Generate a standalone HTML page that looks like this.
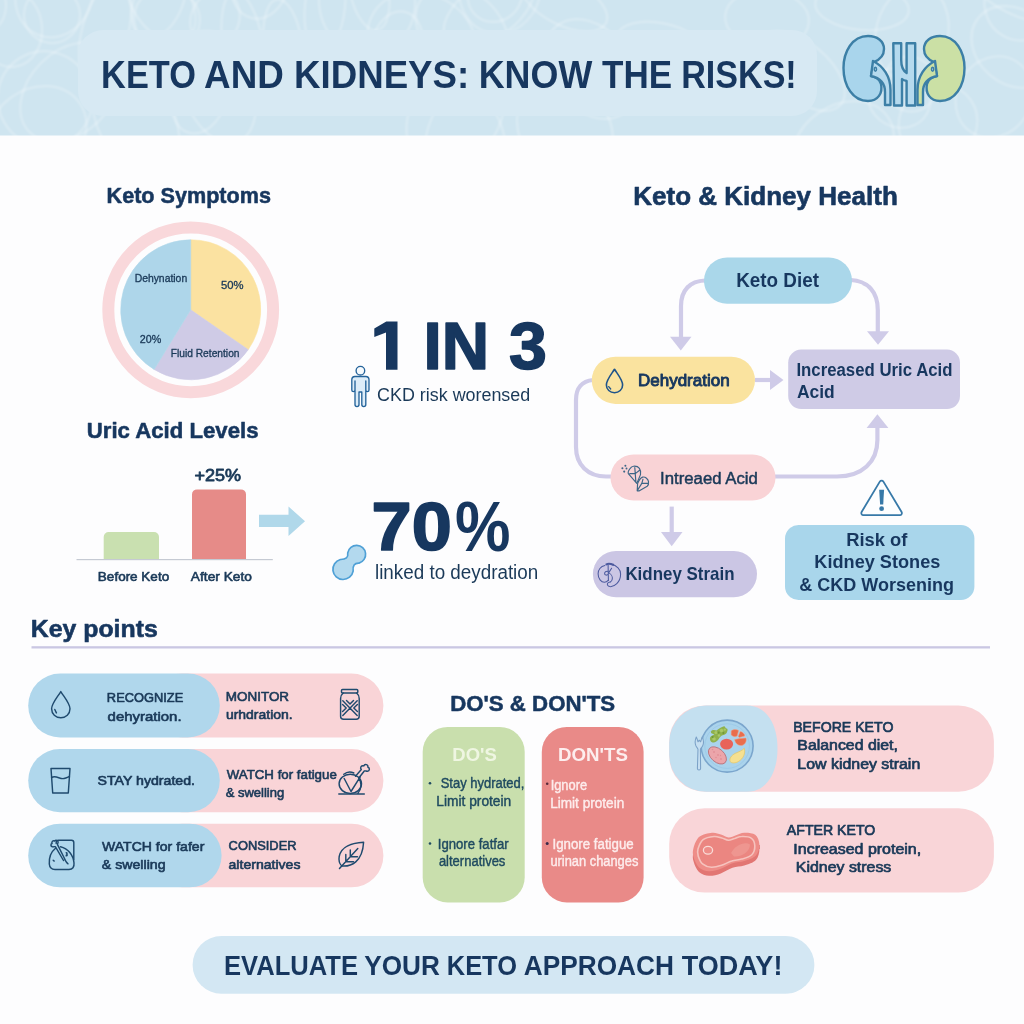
<!DOCTYPE html>
<html><head><meta charset="utf-8"><title>Keto and Kidneys</title>
<style>
html,body{margin:0;padding:0;background:#fdfdfe;}
body{width:1024px;height:1024px;overflow:hidden;font-family:"Liberation Sans",sans-serif;}
svg{display:block;font-family:"Liberation Sans",sans-serif;}
</style></head><body>
<svg width="1024" height="1024" viewBox="0 0 1024 1024">
<defs><filter id="soft" x="-5%" y="-5%" width="110%" height="110%"><feGaussianBlur stdDeviation="0.8"/></filter><clipPath id="hclip"><rect x="0" y="0" width="1024" height="135.5"/></clipPath></defs>
<rect x="0" y="0" width="1024" height="1024" fill="#fdfdfe"/>
<rect x="0" y="0" width="1024" height="135.5" fill="#cfe5f0"/>
<g fill="none" stroke="#ffffff" stroke-opacity="0.26" stroke-width="2.2" filter="url(#soft)" clip-path="url(#hclip)">
<ellipse cx="325" cy="6" rx="47" ry="20" transform="rotate(96 325 6)"/>
<ellipse cx="369" cy="-10" rx="41" ry="19" transform="rotate(78 369 -10)"/>
<ellipse cx="54" cy="-5" rx="38" ry="43" transform="rotate(22 54 -5)"/>
<ellipse cx="218" cy="87" rx="58" ry="35" transform="rotate(71 218 87)"/>
<ellipse cx="1019" cy="-12" rx="55" ry="27" transform="rotate(26 1019 -12)"/>
<ellipse cx="105" cy="32" rx="53" ry="23" transform="rotate(105 105 32)"/>
<ellipse cx="660" cy="43" rx="43" ry="20" transform="rotate(11 660 43)"/>
<ellipse cx="199" cy="96" rx="38" ry="27" transform="rotate(105 199 96)"/>
<ellipse cx="462" cy="31" rx="52" ry="39" transform="rotate(44 462 31)"/>
<ellipse cx="591" cy="69" rx="55" ry="40" transform="rotate(52 591 69)"/>
<ellipse cx="1023" cy="0" rx="38" ry="41" transform="rotate(27 1023 0)"/>
<ellipse cx="500" cy="-13" rx="47" ry="41" transform="rotate(103 500 -13)"/>
<ellipse cx="912" cy="33" rx="48" ry="36" transform="rotate(104 912 33)"/>
<ellipse cx="465" cy="123" rx="58" ry="32" transform="rotate(120 465 123)"/>
<ellipse cx="45" cy="99" rx="47" ry="48" transform="rotate(148 45 99)"/>
<ellipse cx="283" cy="46" rx="47" ry="19" transform="rotate(83 283 46)"/>
<ellipse cx="159" cy="-0" rx="24" ry="41" transform="rotate(23 159 -0)"/>
<ellipse cx="243" cy="46" rx="55" ry="20" transform="rotate(81 243 46)"/>
<ellipse cx="565" cy="130" rx="53" ry="44" transform="rotate(50 565 130)"/>
<ellipse cx="422" cy="41" rx="56" ry="47" transform="rotate(27 422 41)"/>
<ellipse cx="167" cy="19" rx="31" ry="33" transform="rotate(106 167 19)"/>
<ellipse cx="260" cy="-19" rx="38" ry="29" transform="rotate(102 260 -19)"/>
<ellipse cx="994" cy="97" rx="42" ry="37" transform="rotate(122 994 97)"/>
<ellipse cx="37" cy="133" rx="52" ry="44" transform="rotate(144 37 133)"/>
<ellipse cx="397" cy="48" rx="26" ry="37" transform="rotate(11 397 48)"/>
<ellipse cx="52" cy="15" rx="28" ry="28" transform="rotate(9 52 15)"/>
<ellipse cx="-20" cy="6" rx="26" ry="29" transform="rotate(5 -20 6)"/>
<ellipse cx="910" cy="84" rx="28" ry="26" transform="rotate(63 910 84)"/>
<ellipse cx="367" cy="1" rx="54" ry="48" transform="rotate(84 367 1)"/>
<ellipse cx="495" cy="-5" rx="26" ry="28" transform="rotate(48 495 -5)"/>
<ellipse cx="862" cy="7" rx="23" ry="47" transform="rotate(95 862 7)"/>
<ellipse cx="136" cy="72" rx="23" ry="34" transform="rotate(176 136 72)"/>
<ellipse cx="899" cy="98" rx="32" ry="29" transform="rotate(30 899 98)"/>
<ellipse cx="801" cy="71" rx="52" ry="28" transform="rotate(40 801 71)"/>
<ellipse cx="843" cy="147" rx="54" ry="42" transform="rotate(147 843 147)"/>
<ellipse cx="767" cy="19" rx="42" ry="29" transform="rotate(5 767 19)"/>
<ellipse cx="10" cy="28" rx="32" ry="39" transform="rotate(172 10 28)"/>
<ellipse cx="456" cy="139" rx="60" ry="47" transform="rotate(66 456 139)"/>
<ellipse cx="215" cy="19" rx="29" ry="24" transform="rotate(112 215 19)"/>
<ellipse cx="938" cy="123" rx="40" ry="38" transform="rotate(144 938 123)"/>
<ellipse cx="70" cy="92" rx="57" ry="41" transform="rotate(135 70 92)"/>
<ellipse cx="489" cy="10" rx="52" ry="28" transform="rotate(144 489 10)"/>
<ellipse cx="1014" cy="47" rx="37" ry="46" transform="rotate(130 1014 47)"/>
<ellipse cx="161" cy="2" rx="28" ry="45" transform="rotate(145 161 2)"/>
<ellipse cx="136" cy="121" rx="59" ry="38" transform="rotate(63 136 121)"/>
<ellipse cx="564" cy="2" rx="23" ry="47" transform="rotate(117 564 2)"/>
</g>
<rect x="78" y="30" width="739" height="86" rx="25" fill="#d7e9f3"/>
<text x="101.08" y="88.4" font-size="39" font-weight="bold" fill="#17375f" text-anchor="start" textLength="94.77" lengthAdjust="spacingAndGlyphs">KETO</text>
<text x="204.09" y="88.4" font-size="39" font-weight="bold" fill="#17375f" text-anchor="start" textLength="79.81" lengthAdjust="spacingAndGlyphs">AND</text>
<text x="294.03" y="88.4" font-size="39" font-weight="bold" fill="#17375f" text-anchor="start" textLength="175.18" lengthAdjust="spacingAndGlyphs">KIDNEYS:</text>
<text x="478.70" y="88.4" font-size="39" font-weight="bold" fill="#17375f" text-anchor="start" textLength="113.55" lengthAdjust="spacingAndGlyphs">KNOW</text>
<text x="602.03" y="88.4" font-size="39" font-weight="bold" fill="#17375f" text-anchor="start" textLength="70.07" lengthAdjust="spacingAndGlyphs">THE</text>
<text x="681.22" y="88.4" font-size="39" font-weight="bold" fill="#17375f" text-anchor="start" textLength="115.51" lengthAdjust="spacingAndGlyphs">RISKS!</text>
<g stroke="#3c7fa6" stroke-width="2.4" stroke-linejoin="round" stroke-linecap="round">
<path d="M868,36 C852,36 843.5,52 843.5,68 C843.5,86 853,101 868,101 C878,101 883,93 881,84 C879.5,78 875,77 871,76 L874,62 C879,60 884,57 884,49 C884,41 877,36 868,36 Z" fill="#a9d5ec"/>
<path d="M940,36 C956,36 964.5,52 964.5,68 C964.5,86 955,101 940,101 C930,101 925,93 927,84 C928.5,78 933,77 937,76 L934,62 C929,60 924,57 924,49 C924,41 931,36 940,36 Z" fill="#cbe0a5"/>
<path d="M873,61 C883,66 890.5,76 890.5,90 L890.5,105 L885,105 L885,92 C885,83 880,78 871,76 Z" fill="#b5daee"/>
<path d="M935,61 C925,66 917.5,76 917.5,90 L917.5,105 L923,105 L923,92 C923,83 928,78 937,76 Z" fill="#cbe0a5"/>
<ellipse cx="875.4" cy="69.3" rx="1.1" ry="1.9" fill="#e4f1f8" stroke-width="1.6"/>
<ellipse cx="932.6" cy="69.3" rx="1.1" ry="1.9" fill="#e4f1f8" stroke-width="1.6"/>
<path d="M893.3,43.2 L901.2,43.2 L901.2,60 C901.2,67 903.5,71 906.6,73 L906.6,43.2 L915.2,43.2 L915.2,105.5 L906.6,105.5 L906.6,81 C904.5,80.5 903,80 902,79 L902,105.5 L894,105.5 Z" fill="#b5daee"/>
</g>
<text x="106.55" y="202.88" font-size="21.66" font-weight="bold" fill="#17375f" text-anchor="start" textLength="164.36" lengthAdjust="spacingAndGlyphs" stroke="#17375f" stroke-width="0.54" stroke-linejoin="round">Keto Symptoms</text>
<circle cx="190.7" cy="309.8" r="82.4" fill="none" stroke="#f9d8db" stroke-width="12"/>
<path d="M190.7,309.8 L190.70,239.80 A70,70 0 0 1 248.25,349.65 Z" fill="#fbe2a1" stroke="#fbe2a1" stroke-width="0.6" stroke-linejoin="round"/>
<path d="M190.7,309.8 L248.25,349.65 A70,70 0 0 1 154.13,369.48 Z" fill="#cfcbe6" stroke="#cfcbe6" stroke-width="0.6" stroke-linejoin="round"/>
<path d="M190.7,309.8 L154.13,369.48 A70,70 0 0 1 190.70,239.80 Z" fill="#aed6ea" stroke="#aed6ea" stroke-width="0.6" stroke-linejoin="round"/>
<text x="134.64" y="282.33" font-size="11.09" font-weight="normal" fill="#1a3958" text-anchor="start" textLength="52.54" lengthAdjust="spacingAndGlyphs" stroke="#1a3958" stroke-width="0.33" stroke-linejoin="round">Dehynation</text>
<text x="220.96" y="288.92" font-size="11.48" font-weight="normal" fill="#1a3958" text-anchor="start" textLength="22.58" lengthAdjust="spacingAndGlyphs" stroke="#1a3958" stroke-width="0.34" stroke-linejoin="round">50%</text>
<text x="139.75" y="342.73" font-size="11.09" font-weight="normal" fill="#1a3958" text-anchor="start" textLength="21.50" lengthAdjust="spacingAndGlyphs" stroke="#1a3958" stroke-width="0.33" stroke-linejoin="round">20%</text>
<text x="170.74" y="356.73" font-size="11.09" font-weight="normal" fill="#1a3958" text-anchor="start" textLength="68.78" lengthAdjust="spacingAndGlyphs" stroke="#1a3958" stroke-width="0.33" stroke-linejoin="round">Fluid Retention</text>
<text x="86.81" y="437.87" font-size="22.64" font-weight="bold" fill="#17375f" text-anchor="start" textLength="171.69" lengthAdjust="spacingAndGlyphs" stroke="#17375f" stroke-width="0.57" stroke-linejoin="round">Uric Acid Levels</text>
<text x="194.42" y="481.12" font-size="16.31" font-weight="normal" fill="#1a3958" text-anchor="start" textLength="46.58" lengthAdjust="spacingAndGlyphs" stroke="#1a3958" stroke-width="0.78" stroke-linejoin="round">+25%</text>
<path d="M103.7,559.5 V537 a5,5 0 0 1 5,-5 H154 a5,5 0 0 1 5,5 V559.5 Z" fill="#c9e0b0"/>
<path d="M192,559.5 V494.4 a5,5 0 0 1 5,-5 H241 a5,5 0 0 1 5,5 V559.5 Z" fill="#e68b88"/>
<rect x="76.5" y="559" width="196.3" height="1.2" fill="#c5cad3"/>
<text x="97.88" y="581.46" font-size="13.1" font-weight="normal" fill="#1a3958" text-anchor="start" textLength="71.26" lengthAdjust="spacingAndGlyphs" stroke="#1a3958" stroke-width="0.63" stroke-linejoin="round">Before Keto</text>
<text x="190.89" y="581.46" font-size="13.1" font-weight="normal" fill="#1a3958" text-anchor="start" textLength="61.02" lengthAdjust="spacingAndGlyphs" stroke="#1a3958" stroke-width="0.63" stroke-linejoin="round">After Keto</text>
<path d="M259,514.8 H288.5 V506.6 L305,521.2 L288.5,535.9 V527 H259 Z" fill="#b0d8ea"/>
<path d="M386.3,321.5 H397.5 V369.75 H386 V332.6 L374.3,337 V328.6 Z" fill="#17375f"/>
<text x="423.62" y="369.23" font-size="66.46" font-weight="bold" fill="#17375f" text-anchor="start" textLength="65.58" lengthAdjust="spacingAndGlyphs" stroke="#17375f" stroke-width="1.66" stroke-linejoin="round">IN</text>
<text x="508.90" y="369.23" font-size="66.46" font-weight="bold" fill="#17375f" text-anchor="start" textLength="37.83" lengthAdjust="spacingAndGlyphs" stroke="#17375f" stroke-width="1.66" stroke-linejoin="round">3</text>
<text x="377.10" y="401" font-size="18" font-weight="normal" fill="#1a3958" text-anchor="start" textLength="153.10" lengthAdjust="spacingAndGlyphs">CKD risk worensed</text>
<g fill="#dcecf8" stroke="#24639a" stroke-width="1.35" stroke-linejoin="round">
<circle cx="360.4" cy="370.7" r="4.3" fill="#f6fafd"/>
<path d="M355,376.5 H365.8 a3.2,3.2 0 0 1 3.2,3.2 V390 a1.6,1.6 0 0 1 -3.2,0 V381 V404.6 a2,2 0 0 1 -4,0 V392 H359 V404.6 a2,2 0 0 1 -4,0 V381 V390 a1.6,1.6 0 0 1 -3.2,0 V379.7 a3.2,3.2 0 0 1 3.2,-3.2 Z"/>
</g>
<text x="371.60" y="550.41" font-size="68.92" font-weight="bold" fill="#17375f" text-anchor="start" textLength="80.28" lengthAdjust="spacingAndGlyphs" stroke="#17375f" stroke-width="1.72" stroke-linejoin="round">70</text>
<text x="455.02" y="550.8" font-size="70" font-weight="bold" fill="#17375f" text-anchor="start" textLength="55.51" lengthAdjust="spacingAndGlyphs">%</text>
<text x="374.99" y="578.5" font-size="19.5" font-weight="normal" fill="#1a3958" text-anchor="start" textLength="163.27" lengthAdjust="spacingAndGlyphs">linked to deydration</text>
<path d="M347.74,552.81 A9.0,9.0 0 1 1 359.05,563.06 Q352.12,562.71 353.14,571.10 A10.2,10.2 0 1 1 340.32,559.49 Q348.77,559.68 347.74,552.81 Z" fill="#b3d9ee" stroke="#4fa0d6" stroke-width="1.7" stroke-linejoin="round"/>
<text x="633.29" y="205.05" font-size="26.09" font-weight="bold" fill="#17375f" text-anchor="start" textLength="264.51" lengthAdjust="spacingAndGlyphs" stroke="#17375f" stroke-width="0.65" stroke-linejoin="round">Keto &amp; Kidney Health</text>
<g fill="none" stroke="#cfcbe8" stroke-width="4.2">
<path d="M705,280.5 C690,281 681,290 681,306 V338"/>
<path d="M851,280 C868,281 877.8,292 877.8,310 V333"/>
<path d="M755,380 H772"/>
<path d="M593,380 C582,381 576,388 576,400 V447 C576,465 588,476.5 606,476.5 H612"/>
<path d="M774,476.5 H837 C862,476.5 877.4,462 877.4,440 V426"/>
<path d="M671.7,506.6 V534"/>
</g>
<g fill="#cfcbe8">
<path d="M670,336.7 H691.5 L680.8,350.6 Z"/>
<path d="M867,331.3 H889 L878,344.8 Z"/>
<path d="M770,370 L783.5,380 L770,390 Z"/>
<path d="M866.6,428 H888.4 L877.4,414.3 Z"/>
<path d="M661,532 H682.5 L671.7,546.3 Z"/>
</g>
<rect x="704" y="257.6" width="148" height="46.2" rx="23.1" fill="#aad7ea"/>
<text x="736.18" y="286.6" font-size="19.5" font-weight="bold" fill="#17375f" text-anchor="start" textLength="82.78" lengthAdjust="spacingAndGlyphs">Keto Diet</text>
<rect x="591.8" y="356.7" width="163.2" height="47.2" rx="23.6" fill="#fae39f"/>
<text x="638.00" y="386.39" font-size="17.11" font-weight="normal" fill="#17375f" text-anchor="start" textLength="91.62" lengthAdjust="spacingAndGlyphs" stroke="#17375f" stroke-width="0.94" stroke-linejoin="round">Dehydration</text>
<path d="M614.5,369.3 C611.3,374.3 606.4,380 606.4,384.9 C606.4,389.4 610,392.7 614.5,392.7 C619,392.7 622.6,389.4 622.6,384.9 C622.6,380 617.7,374.3 614.5,369.3 Z" fill="none" stroke="#1f548a" stroke-width="1.6" stroke-linejoin="round"/>
<path d="M608.7,386.6 l2,2.4" fill="none" stroke="#1f548a" stroke-width="1.3" stroke-linecap="round"/>
<rect x="788.2" y="349.6" width="171.8" height="59.4" rx="13" fill="#cfcbe6"/>
<text x="796.42" y="375.8" font-size="18" font-weight="bold" fill="#17375f" text-anchor="start" textLength="156.10" lengthAdjust="spacingAndGlyphs">Increased Uric Acid</text>
<text x="796.93" y="398.3" font-size="18" font-weight="bold" fill="#17375f" text-anchor="start" textLength="37.89" lengthAdjust="spacingAndGlyphs">Acid</text>
<rect x="610.5" y="454.4" width="165" height="46.2" rx="23.1" fill="#f9d3d6"/>
<text x="660.14" y="483.69" font-size="16.69" font-weight="normal" fill="#1a3958" text-anchor="start" textLength="97.67" lengthAdjust="spacingAndGlyphs" stroke="#1a3958" stroke-width="0.50" stroke-linejoin="round">Intreaed Acid</text>
<g fill="none" stroke="#3d6687" stroke-width="1.15" stroke-linejoin="round" stroke-linecap="round">
<path d="M633.6,466.2 C636,466 638.4,467 639.4,468.3 C640.6,470 641,472.5 640.5,474.6 L636.8,483.4 L628.3,473.6 C627.8,472 629,469.5 631.4,467.2 C632,466.6 632.8,466.3 633.6,466.2 Z M634.8,467.6 L635.9,482.4 M629.8,473.6 H635.6 M635.6,473.4 L639.6,470.3"/>
<path d="M637.2,490.8 L637.6,483.6 C638.6,480.6 640.4,478 642.6,477.1 C645.4,476.6 648.2,479 648.5,481.6 C648.8,483.6 648.2,485.4 647.2,486.3 L639.4,490.8 Z M643,479.2 L641.8,483.4 L637.4,490.4 M641.8,483.4 H648.2"/>
</g>
<g fill="#3d6687"><circle cx="625.4" cy="465.8" r="1"/><circle cx="622.4" cy="468.2" r="1.05"/><circle cx="626.5" cy="468.5" r="0.95"/><circle cx="624.2" cy="471.6" r="1.05"/></g>
<rect x="592.9" y="551" width="164.1" height="46.2" rx="23.1" fill="#cbc6e4"/>
<text x="625.40" y="580" font-size="19" font-weight="bold" fill="#17375f" text-anchor="start" textLength="109.11" lengthAdjust="spacingAndGlyphs">Kidney Strain</text>
<g fill="none" stroke="#3f4f97" stroke-width="1.05" opacity="0.9" stroke-linecap="round" stroke-linejoin="round">
<path d="M604.9,565.6 C600.5,566.3 598.1,570 598.1,573.7 C598.1,578.8 601.2,582.3 604.4,582.3 C606.2,582.3 607.5,581.2 608.2,580.4"/>
<path d="M611,564.2 C617,565.3 620.6,569.5 620.6,574 C620.6,578.5 619,581.5 616.8,583.6 C614.5,585.8 611.8,586.9 609.8,586.6 C607.6,586.2 607,584.3 607.6,583.3 C608.1,582.5 609,582 610.2,582"/>
<path d="M606.4,564.4 C608,563.6 610.5,563.7 613.2,564.8" stroke-width="2"/>
<path d="M608.1,565 L608.4,580.5 M608.8,572.6 L611.6,568.3 M608.8,572.9 C611,574 612.7,576.8 612.3,579 C612,580.8 611,581.8 610.2,582 M608,571.4 C606,570.9 604.6,572 604.6,573.5 C604.6,575.4 607,575.6 608.1,574.2"/>
</g>
<path d="M883.4,481.6 L901.6,512 a2.1,2.1 0 0 1 -1.8,3.2 H863.4 a2.1,2.1 0 0 1 -1.8,-3.2 L879.8,481.6 a2.1,2.1 0 0 1 3.6,0 Z" fill="#fdfeff" stroke="#3779a8" stroke-width="1.8" stroke-linejoin="round"/>
<path d="M879.2,489.8 h4.9 l-0.9,14.8 h-3.1 Z" fill="#3779a8"/><circle cx="881.6" cy="508.7" r="2.4" fill="#3779a8"/>
<rect x="785" y="525" width="189.4" height="75" rx="13.5" fill="#a9d6eb"/>
<text x="846.15" y="545.6" font-size="18" font-weight="bold" fill="#17375f" text-anchor="start" textLength="61.26" lengthAdjust="spacingAndGlyphs">Risk of</text>
<text x="814.36" y="568" font-size="18" font-weight="bold" fill="#17375f" text-anchor="start" textLength="125.95" lengthAdjust="spacingAndGlyphs">Kidney Stones</text>
<text x="799.37" y="591" font-size="18" font-weight="bold" fill="#17375f" text-anchor="start" textLength="154.66" lengthAdjust="spacingAndGlyphs">&amp; CKD Worsening</text>
<text x="30.80" y="636.86" font-size="24.12" font-weight="bold" fill="#17375f" text-anchor="start" textLength="126.94" lengthAdjust="spacingAndGlyphs" stroke="#17375f" stroke-width="0.60" stroke-linejoin="round">Key points</text>
<rect x="31.5" y="646.2" width="958.5" height="2.3" fill="#cac7e3"/>
<rect x="150" y="673.5" width="233.4" height="64.0" rx="32.0" fill="#f9d4d7"/>
<rect x="28.2" y="673.5" width="191.6" height="64.0" rx="32.0" fill="#b0d7ec"/>
<rect x="150" y="749" width="233.4" height="63.2" rx="31.6" fill="#f9d4d7"/>
<rect x="28.2" y="749" width="191.6" height="63.2" rx="31.6" fill="#b0d7ec"/>
<rect x="150" y="823.7" width="233.4" height="63.6" rx="31.8" fill="#f9d4d7"/>
<rect x="28.2" y="823.7" width="193.4" height="63.6" rx="31.8" fill="#b0d7ec"/>
<text x="106.86" y="701.85" font-size="13.59" font-weight="normal" fill="#1a3958" text-anchor="start" textLength="76.41" lengthAdjust="spacingAndGlyphs" stroke="#1a3958" stroke-width="0.65" stroke-linejoin="round">RECOGNIZE</text>
<text x="107.64" y="720.55" font-size="13.59" font-weight="normal" fill="#1a3958" text-anchor="start" textLength="73.95" lengthAdjust="spacingAndGlyphs" stroke="#1a3958" stroke-width="0.65" stroke-linejoin="round">dehyration.</text>
<text x="225.79" y="701.35" font-size="13.59" font-weight="normal" fill="#1a3958" text-anchor="start" textLength="63.32" lengthAdjust="spacingAndGlyphs" stroke="#1a3958" stroke-width="0.65" stroke-linejoin="round">MONITOR</text>
<text x="225.96" y="719.15" font-size="13.59" font-weight="normal" fill="#1a3958" text-anchor="start" textLength="66.67" lengthAdjust="spacingAndGlyphs" stroke="#1a3958" stroke-width="0.65" stroke-linejoin="round">urhdration.</text>
<text x="97.49" y="785.35" font-size="13.59" font-weight="normal" fill="#1a3958" text-anchor="start" textLength="97.52" lengthAdjust="spacingAndGlyphs" stroke="#1a3958" stroke-width="0.65" stroke-linejoin="round">STAY hydrated.</text>
<text x="226.73" y="778.85" font-size="13.59" font-weight="normal" fill="#1a3958" text-anchor="start" textLength="110.07" lengthAdjust="spacingAndGlyphs" stroke="#1a3958" stroke-width="0.65" stroke-linejoin="round">WATCH for fatigue</text>
<text x="225.67" y="797.05" font-size="13.59" font-weight="normal" fill="#1a3958" text-anchor="start" textLength="58.54" lengthAdjust="spacingAndGlyphs" stroke="#1a3958" stroke-width="0.65" stroke-linejoin="round">&amp; swelling</text>
<text x="101.97" y="850.55" font-size="13.59" font-weight="normal" fill="#1a3958" text-anchor="start" textLength="102.35" lengthAdjust="spacingAndGlyphs" stroke="#1a3958" stroke-width="0.65" stroke-linejoin="round">WATCH for fafer</text>
<text x="101.78" y="869.45" font-size="13.59" font-weight="normal" fill="#1a3958" text-anchor="start" textLength="63.84" lengthAdjust="spacingAndGlyphs" stroke="#1a3958" stroke-width="0.65" stroke-linejoin="round">&amp; swelling</text>
<text x="228.60" y="850.45" font-size="13.59" font-weight="normal" fill="#1a3958" text-anchor="start" textLength="67.93" lengthAdjust="spacingAndGlyphs" stroke="#1a3958" stroke-width="0.65" stroke-linejoin="round">CONSIDER</text>
<text x="228.53" y="868.85" font-size="13.59" font-weight="normal" fill="#1a3958" text-anchor="start" textLength="71.96" lengthAdjust="spacingAndGlyphs" stroke="#1a3958" stroke-width="0.65" stroke-linejoin="round">alternatives</text>
<g fill="none" stroke="#1f4a6e" stroke-width="1.45" stroke-linejoin="round" stroke-linecap="round">
<path d="M60.8,691.6 C57.2,697.4 51.6,703.6 51.6,708.8 C51.6,713.9 55.7,717.7 60.8,717.7 C65.9,717.7 70,713.9 70,708.8 C70,703.6 64.4,697.4 60.8,691.6 Z"/>
<path d="M54.8,709.5 l1.6,3.4"/>
<path d="M51,768.5 H70 L68.3,793 H52.7 Z"/>
<path d="M51.6,777.5 C56,775 60,779.5 64,778.5 C66.5,778 68,777 69.4,776.5"/>
<path d="M56.2,843.5 V842.6 a2.3,2.3 0 0 1 2.3,-2.3 H71.5 a2.3,2.3 0 0 1 2.3,2.3 V859.5"/>
<path d="M55.5,848.3 C51,852 48.9,858 49.3,864 C49.6,867.6 52,869.4 55,869.4 H69 C72.6,869.4 74.4,867 74,863 C73.3,855 68,848.6 60.5,846.8"/>
<path d="M55.5,846.8 c-1.2,-0.6 -1.8,0.4 -3.2,0 c-1.8,-0.5 -1.8,-2.8 -0.2,-3.3 c-0.9,-1.7 1,-3.4 2.6,-2.4 c1,-1.4 3.4,-0.8 3.4,1 c0,1 -0.7,1.6 -0.6,2.6 L64,857.5 C65,860 66,862.5 68,863.8 M55.5,846.8 L63.5,860.5"/>
<path d="M66.2,852.6 c1,0 1.2,1.2 0.2,1.5 c1.2,0.2 1,1.8 -0.3,1.7 M53.2,860.3 l1,0.8"/>
<rect x="341.5" y="689.4" width="16.3" height="3.6" rx="1"/>
<path d="M343.2,693 C341.2,694.6 340.6,696.5 340.6,698.5 V716.2 a3,3 0 0 0 3,3 H356.2 a3,3 0 0 0 3,-3 V698.5 C359.2,696.5 358.6,694.6 356.6,693"/>
<path d="M342.8,700.8 L357.2,715.4 M357.2,700.8 L342.8,715.4 M342.6,704.6 L346.2,708.1 L342.6,711.6 M357.4,704.6 L353.8,708.1 L357.4,711.6 M346.5,700.6 L350,704 L353.5,700.6"/>
<ellipse cx="350.3" cy="783.8" rx="11.2" ry="9.6"/>
<path d="M355.5,776.2 L361.3,769.6 c-1.7,-1.9 0.2,-4.6 2.5,-3.7 c0.9,-2.4 4.6,-1.3 4.1,1.3 c2.2,0.5 1.9,3.9 -0.5,4 c-1.3,0.1 -2,-0.6 -3.1,-0.2 L358.8,778"/>
<path d="M343.8,774.3 c2.8,-2.4 7,-2.8 10,-1.3 M344.2,778.5 L351,791.5 L360.2,776.8 M338.8,794 H364.3 M358.8,778 C362.5,783 361,790 358,793"/>
<path d="M363.6,842.2 C352,842.8 341,846.8 339.2,856.5 C338.5,860.5 339.6,864 341.8,866 C351,866.8 362.5,862 363.6,842.2 Z"/>
<path d="M339.5,868.6 L357.8,848.5 M345.8,861.7 V854.5 M345.8,861.7 H353.5 M350.3,856.8 V850 M350.3,856.8 H357.5"/>
</g>
<text x="450.24" y="710.87" font-size="22.64" font-weight="bold" fill="#17375f" text-anchor="start" textLength="164.92" lengthAdjust="spacingAndGlyphs" stroke="#17375f" stroke-width="0.57" stroke-linejoin="round">DO'S &amp; DON'TS</text>
<rect x="422.7" y="726.9" width="102" height="175.5" rx="25" fill="#c9dfad"/>
<rect x="541.8" y="726.9" width="101.8" height="175.5" rx="25" fill="#e98a88"/>
<text x="452.30" y="760.8" font-size="19" font-weight="bold" fill="#eff6e2" text-anchor="start" textLength="44.46" lengthAdjust="spacingAndGlyphs">DO'S</text>
<text x="558.05" y="760.8" font-size="19" font-weight="bold" fill="#fdeeee" text-anchor="start" textLength="69.86" lengthAdjust="spacingAndGlyphs">DON'TS</text>
<text x="440.66" y="788.31" font-size="13.74" font-weight="normal" fill="#1f4a60" text-anchor="start" textLength="83.71" lengthAdjust="spacingAndGlyphs" stroke="#1f4a60" stroke-width="0.41" stroke-linejoin="round">Stay hydrated,</text>
<text x="436.34" y="806.11" font-size="13.74" font-weight="normal" fill="#1f4a60" text-anchor="start" textLength="74.87" lengthAdjust="spacingAndGlyphs" stroke="#1f4a60" stroke-width="0.41" stroke-linejoin="round">Limit protein</text>
<text x="437.82" y="848.91" font-size="13.74" font-weight="normal" fill="#1f4a60" text-anchor="start" textLength="70.81" lengthAdjust="spacingAndGlyphs" stroke="#1f4a60" stroke-width="0.41" stroke-linejoin="round">Ignore fatfar</text>
<text x="438.89" y="865.91" font-size="13.74" font-weight="normal" fill="#1f4a60" text-anchor="start" textLength="66.50" lengthAdjust="spacingAndGlyphs" stroke="#1f4a60" stroke-width="0.41" stroke-linejoin="round">alternatives</text>
<circle cx="430" cy="783.3" r="1.3" fill="#1f4a60"/><circle cx="430" cy="843.5" r="1.3" fill="#1f4a60"/>
<text x="550.65" y="789.91" font-size="13.74" font-weight="normal" fill="#fdecec" text-anchor="start" textLength="36.47" lengthAdjust="spacingAndGlyphs" stroke="#fdecec" stroke-width="0.41" stroke-linejoin="round">Ignore</text>
<text x="550.14" y="808.31" font-size="13.74" font-weight="normal" fill="#fdecec" text-anchor="start" textLength="74.10" lengthAdjust="spacingAndGlyphs" stroke="#fdecec" stroke-width="0.41" stroke-linejoin="round">Limit protein</text>
<text x="552.54" y="848.91" font-size="13.74" font-weight="normal" fill="#fdecec" text-anchor="start" textLength="81.15" lengthAdjust="spacingAndGlyphs" stroke="#fdecec" stroke-width="0.41" stroke-linejoin="round">Ignore fatigue</text>
<text x="550.39" y="865.91" font-size="13.74" font-weight="normal" fill="#fdecec" text-anchor="start" textLength="87.96" lengthAdjust="spacingAndGlyphs" stroke="#fdecec" stroke-width="0.41" stroke-linejoin="round">urinan changes</text>
<circle cx="547.2" cy="783.8" r="1.3" fill="#5a2a3a"/><circle cx="547.2" cy="843.5" r="1.5" fill="#3a2a4a"/>
<rect x="669.2" y="705.6" width="324.7" height="86.2" rx="35.5" fill="#f9d5d8"/>
<path d="M706.2,705.6 H747 C767,705.6 777.5,725 777.5,748.7 C777.5,772 767,791.8 747,791.8 H706.2 a37,37 0 0 1 -37,-37 V742.6 a37,37 0 0 1 37,-37 Z" fill="#c4e0f0"/>
<rect x="669.2" y="808.3" width="324.7" height="84.3" rx="35.5" fill="#f9d5d8"/>
<text x="793.18" y="731.64" font-size="14.75" font-weight="normal" fill="#1a3958" text-anchor="start" textLength="100.22" lengthAdjust="spacingAndGlyphs" stroke="#1a3958" stroke-width="0.71" stroke-linejoin="round">BEFORE KETO</text>
<text x="797.39" y="750.44" font-size="14.56" font-weight="normal" fill="#1a3958" text-anchor="start" textLength="100.53" lengthAdjust="spacingAndGlyphs" stroke="#1a3958" stroke-width="0.70" stroke-linejoin="round">Balanced diet,</text>
<text x="797.37" y="768.54" font-size="14.56" font-weight="normal" fill="#1a3958" text-anchor="start" textLength="122.89" lengthAdjust="spacingAndGlyphs" stroke="#1a3958" stroke-width="0.70" stroke-linejoin="round">Low kidney strain</text>
<text x="786.83" y="834.64" font-size="14.56" font-weight="normal" fill="#1a3958" text-anchor="start" textLength="88.51" lengthAdjust="spacingAndGlyphs" stroke="#1a3958" stroke-width="0.70" stroke-linejoin="round">AFTER KETO</text>
<text x="793.39" y="854.14" font-size="14.56" font-weight="normal" fill="#1a3958" text-anchor="start" textLength="127.77" lengthAdjust="spacingAndGlyphs" stroke="#1a3958" stroke-width="0.70" stroke-linejoin="round">Increased protein,</text>
<text x="795.85" y="872.24" font-size="14.56" font-weight="normal" fill="#1a3958" text-anchor="start" textLength="95.49" lengthAdjust="spacingAndGlyphs" stroke="#1a3958" stroke-width="0.70" stroke-linejoin="round">Kidney stress</text>
<circle cx="727.1" cy="746.1" r="26" fill="#aad3ec" stroke="#7ba6cd" stroke-width="1.6"/>
<circle cx="727.1" cy="746.1" r="22.3" fill="none" stroke="#9ac8e6" stroke-width="0.8"/>
<path d="M711,731.5 C712,729.5 715,729.8 716.5,730.6 C718.5,728.5 721.5,727.3 724,726.2 C725.3,726.4 725.2,728 726.4,728.4 C727.8,728.2 727.8,730.4 727.2,731.6 C726.8,733.6 725,735 722.6,735.3 C721,735.6 719.8,737.4 718.6,739.2 C717.2,741.4 714.6,743 712.6,742.4 C710.2,741.8 709.4,739 710.2,737.2 C711,735.6 713.4,735.2 714.4,734.4 C713,734 710.4,733.4 711,731.5 Z" fill="#8fb14c"/>
<g fill="#a9c866"><circle cx="716" cy="732.5" r="1.6"/><circle cx="721.5" cy="730.5" r="1.7"/><circle cx="724.8" cy="729.6" r="1.2"/><circle cx="714" cy="739" r="1.8"/><circle cx="719" cy="735.5" r="1.3"/></g>
<g fill="#6f9838"><circle cx="718.6" cy="732.6" r="1.1"/><circle cx="712.6" cy="737" r="1"/><circle cx="723.4" cy="733" r="1"/></g>
<g fill="#e96d4c" stroke="#f0a58a" stroke-width="0.5"><path d="M731.2,731 C732.5,729.2 736.5,729 738.6,730.4 L737.2,736 C735,737.5 732,736.6 731.2,734.6 Z"/><path d="M740.2,731.4 C742.6,731.6 744.8,734 744.8,736 L739.4,737.4 L738.2,736.4 Z"/><path d="M734.6,739.6 L739.4,738.6 L746,738 C746.8,741 745.4,744.4 742,745.4 C738.6,746.2 735.2,743.6 734.6,739.6 Z"/></g>
<ellipse cx="726.6" cy="744.1" rx="6.5" ry="5.4" fill="#e8635a"/>
<ellipse cx="717.4" cy="755.4" rx="10.6" ry="6.6" transform="rotate(42 717.4 755.4)" fill="#eba5aa" stroke="#b9747e" stroke-width="0.9"/>
<g fill="#df8a93" opacity="0.8"><circle cx="714" cy="752" r="0.9"/><circle cx="718" cy="755" r="0.9"/><circle cx="721" cy="759" r="0.9"/><circle cx="716" cy="757.5" r="0.8"/><circle cx="712.5" cy="749.5" r="0.8"/><circle cx="720.5" cy="755.5" r="0.7"/></g>
<path d="M744.3,748.2 C745.6,753.5 743.4,758.6 738.6,761.4 C735.8,763.2 731.6,763.6 730.2,761.6 C729,758.4 731.6,755.2 735.2,753.4 C739,751.6 742.4,750.6 744.3,748.2 Z" fill="#f6e091" stroke="#e3c86c" stroke-width="0.8"/>
<path d="M696.3,737 C695.2,739.6 694.9,743.6 696,746 C696.8,747.6 698,748.4 698,749.6 L697.4,768.4 a1.6,1.6 0 0 0 3.2,0 L700.4,749.6 C700.4,748.4 701.8,747.6 702.6,746 C703.8,743.6 703.4,739.6 702.2,737 C701.4,738.4 701.2,740.4 700.6,741.8 L699.3,740.2 L698,741.8 C697.4,740.4 697.2,738.4 696.3,737 Z" fill="#c6dff1" stroke="#7ba1c7" stroke-width="1.05" stroke-linejoin="round"/>
<path d="M693.4,853.0 C694.3,849.6 696.2,844.0 699.3,841.4 C702.4,838.8 708.4,837.7 712.0,837.3 C715.6,836.9 718.2,838.4 721.0,839.2 C723.8,840.0 726.1,841.9 728.6,842.0 C731.1,842.1 733.4,840.6 736.0,839.8 C738.6,839.0 741.0,837.4 744.2,837.3 C747.4,837.2 752.7,837.4 755.2,839.3 C757.7,841.2 759.3,845.5 759.4,849.0 C759.5,852.5 758.4,857.3 755.9,860.1 C753.4,862.9 748.1,864.3 744.2,865.6 C740.3,866.9 736.4,866.5 732.5,867.8 C728.6,869.1 724.7,872.1 720.8,873.4 C716.9,874.7 712.6,876.0 709.0,875.8 C705.4,875.6 701.6,874.4 699.0,872.0 C696.4,869.6 694.5,864.8 693.6,861.6 C692.7,858.4 692.5,856.4 693.4,853.0 Z" fill="#e27673"/>
<path d="M693.5,850 V855 M759.3,845 V849" stroke="#e27673" stroke-width="1" fill="none"/>
<path d="M693.4,848.4 C694.3,845.0 696.2,839.4 699.3,836.8 C702.4,834.2 708.4,833.1 712.0,832.7 C715.6,832.3 718.2,833.8 721.0,834.6 C723.8,835.4 726.1,837.3 728.6,837.4 C731.1,837.5 733.4,836.0 736.0,835.2 C738.6,834.4 741.0,832.8 744.2,832.7 C747.4,832.6 752.7,832.8 755.2,834.7 C757.7,836.7 759.3,840.9 759.4,844.4 C759.5,847.9 758.4,852.7 755.9,855.5 C753.4,858.3 748.1,859.7 744.2,861.0 C740.3,862.3 736.4,861.9 732.5,863.2 C728.6,864.5 724.7,867.5 720.8,868.8 C716.9,870.1 712.6,871.4 709.0,871.2 C705.4,871.0 701.6,869.8 699.0,867.4 C696.4,865.0 694.5,860.2 693.6,857.0 C692.7,853.8 692.5,851.8 693.4,848.4 Z" fill="#ee8d88"/>
<path d="M698.0,849.0 C698.9,846.3 700.4,841.8 703.1,839.7 C705.8,837.6 710.9,836.8 714.0,836.5 C717.1,836.2 719.4,837.4 721.8,838.0 C724.1,838.6 726.2,840.1 728.3,840.2 C730.5,840.3 732.4,839.1 734.7,838.5 C736.9,837.8 739.0,836.5 741.7,836.5 C744.5,836.4 749.0,836.5 751.2,838.1 C753.4,839.6 754.7,843.0 754.8,845.8 C754.9,848.6 754.0,852.5 751.8,854.7 C749.6,856.9 745.1,858.1 741.7,859.1 C738.4,860.1 735.0,859.8 731.7,860.9 C728.3,861.9 725.0,864.3 721.6,865.3 C718.2,866.4 714.6,867.4 711.5,867.3 C708.3,867.1 705.1,866.1 702.9,864.2 C700.6,862.3 699.0,858.4 698.2,855.9 C697.4,853.4 697.2,851.7 698.0,849.0 Z" fill="#eb8681" stroke="#f6c3be" stroke-width="1.6"/>
<path d="M731,853 C735,845 745,841 750,844.5 C750,851 743,857 734,856.5 Z" fill="#ef9a94" opacity="0.8"/>
<ellipse cx="708" cy="850.3" rx="4.6" ry="3.9" fill="#ee8d88" stroke="#f9dcd8" stroke-width="1.3"/>
<rect x="192.6" y="936" width="621.8" height="57.8" rx="28.9" fill="#d3e7f3"/>
<text x="223.95" y="975.4" font-size="28.2" font-weight="bold" fill="#17375f" text-anchor="start" textLength="134.07" lengthAdjust="spacingAndGlyphs">EVALUATE</text>
<text x="364.20" y="975.4" font-size="28.2" font-weight="bold" fill="#17375f" text-anchor="start" textLength="75.65" lengthAdjust="spacingAndGlyphs">YOUR</text>
<text x="446.79" y="975.4" font-size="28.2" font-weight="bold" fill="#17375f" text-anchor="start" textLength="70.20" lengthAdjust="spacingAndGlyphs">KETO</text>
<text x="523.81" y="975.4" font-size="28.2" font-weight="bold" fill="#17375f" text-anchor="start" textLength="150.14" lengthAdjust="spacingAndGlyphs">APPROACH</text>
<text x="681.85" y="975.4" font-size="28.2" font-weight="bold" fill="#17375f" text-anchor="start" textLength="100.54" lengthAdjust="spacingAndGlyphs">TODAY!</text>
</svg>
</body></html>
